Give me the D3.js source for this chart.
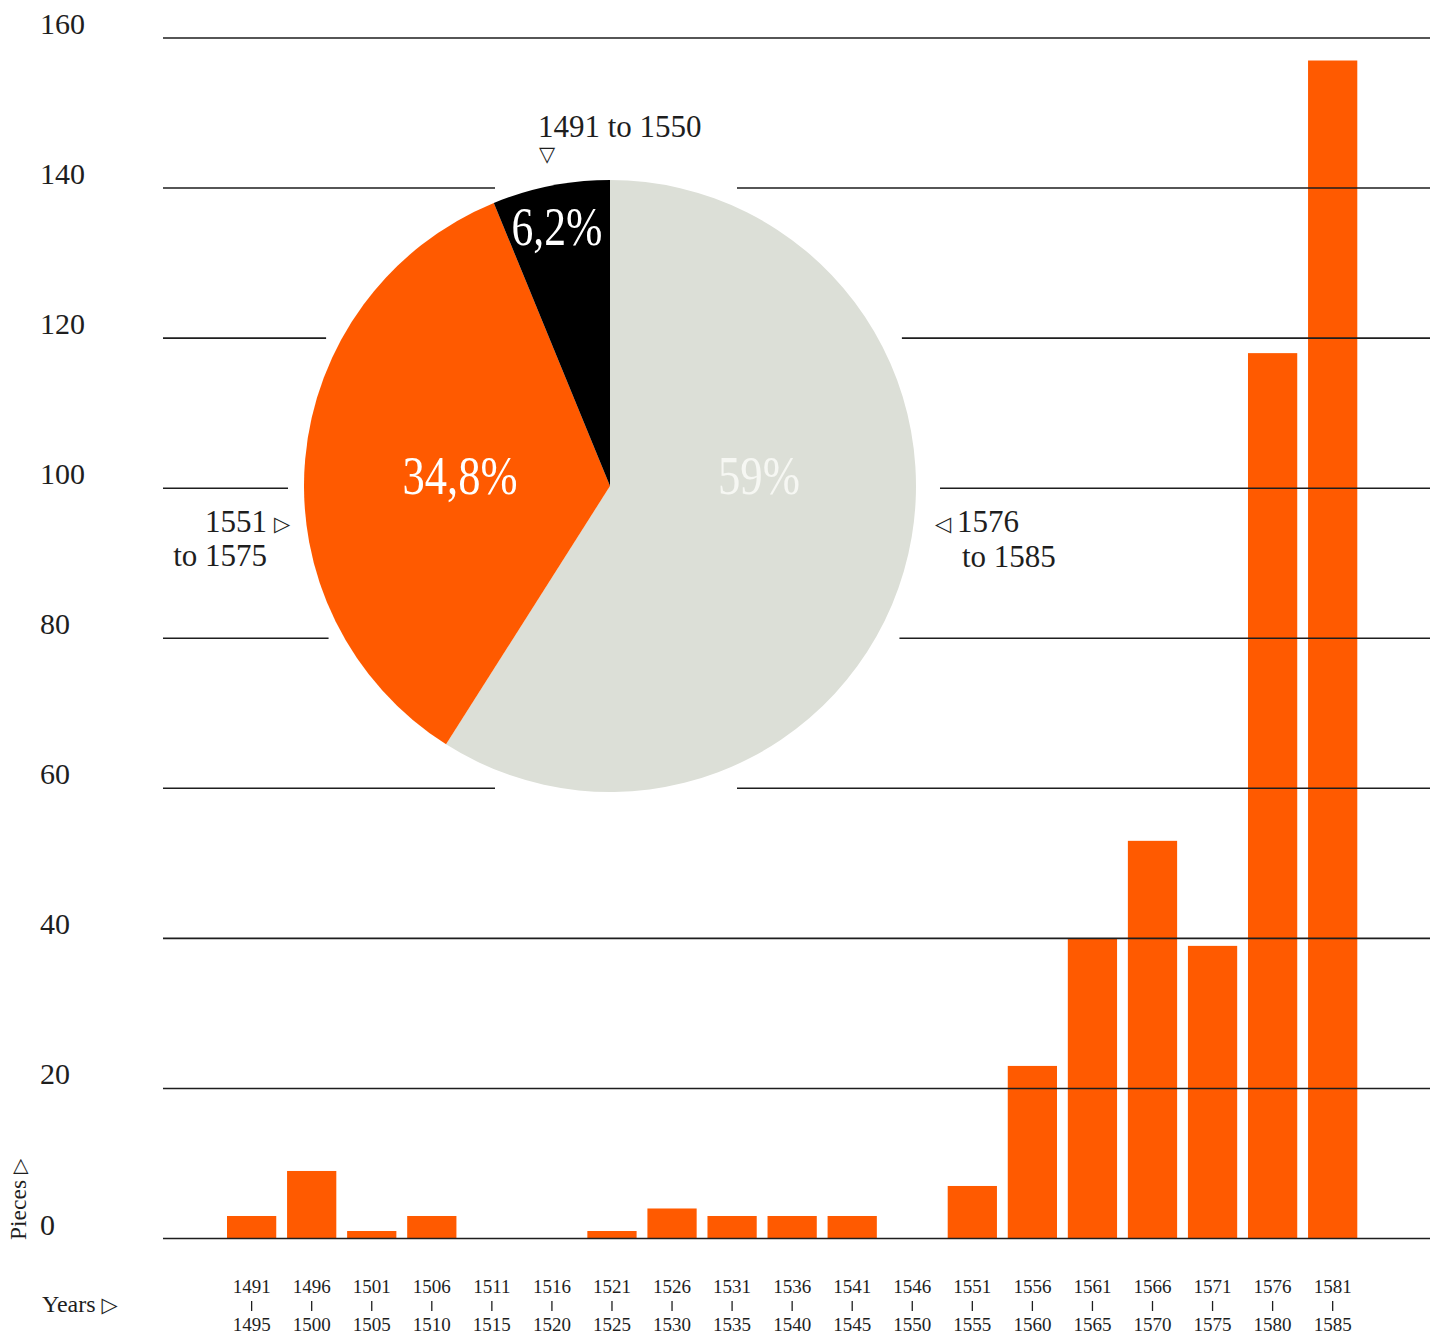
<!DOCTYPE html>
<html>
<head>
<meta charset="utf-8">
<script src="https://cdn.jsdelivr.net/npm/d3@7"></script>
<style>
  html, body { margin: 0; padding: 0; background: #fff; }
  svg { display: block; }
</style>
</head>
<body>
<svg id="chart" width="1452" height="1339"></svg>
<script>
// ---- data ----
const periodStart = ["1491","1496","1501","1506","1511","1516","1521","1526","1531","1536","1541","1546","1551","1556","1561","1566","1571","1576","1581"];
const periodEnd   = ["1495","1500","1505","1510","1515","1520","1525","1530","1535","1540","1545","1550","1555","1560","1565","1570","1575","1580","1585"];
const pieces      = [3, 9, 1, 3, 0, 0, 1, 4, 3, 3, 3, 0, 7, 23, 40, 53, 39, 118, 157];
const yTicks      = [0, 20, 40, 60, 80, 100, 120, 140, 160];

const shareNames  = ["1576 to 1585", "1551 to 1575", "1491 to 1550"];
const shareValues = [59, 34.8, 6.2];
const shareLabels = ["59%", "34,8%", "6,2%"];
const shareColors = ["#dcdfd7", "#ff5a00", "#000000"];

// ---- layout ----
const svg = d3.select("#chart");
const serif = "'Liberation Serif', 'DejaVu Serif', serif";
const symf = "'DejaVu Sans', sans-serif";
const orange = "#ff5a00";
const ink = "#1e1e1e";

const y = d3.scaleLinear().domain([0, 160]).range([1238.5, 38]);
const x = d3.scaleBand().domain(periodStart).range([221.6, 1362.7]).paddingInner(0.18).paddingOuter(0.09);

const cx = 610, cy = 486, r = 306;

// bars
svg.append("g").selectAll("rect").data(pieces).join("rect")
  .attr("x", (d, i) => x(periodStart[i]))
  .attr("width", x.bandwidth())
  .attr("y", d => y(d))
  .attr("height", d => y(0) - y(d))
  .attr("fill", orange);

// pie
const pie = d3.pie().sort(null).value(d => d)(shareValues);
const arc = d3.arc().innerRadius(0).outerRadius(r);
const pg = svg.append("g").attr("transform", `translate(${cx},${cy})`);
pg.selectAll("path").data(pie).join("path")
  .attr("d", arc)
  .attr("fill", (d, i) => shareColors[i]);

// gridlines (interrupted around the pie)
const gx0 = 163, gx1 = 1430;
const grid = svg.append("g").attr("stroke", ink).attr("stroke-width", 1.6);
yTicks.forEach(t => {
  const py = y(t);
  const dy = py - cy;
  if (Math.abs(dy) < r + 10) {
    const hw = Math.abs(dy) < r ? Math.sqrt(r * r - dy * dy) : 0;
    const l = cx - Math.max(hw + 16, 115);
    const rr = cx + Math.max(hw + 24, 127);
    grid.append("line").attr("x1", gx0).attr("x2", l).attr("y1", py).attr("y2", py);
    grid.append("line").attr("x1", rr).attr("x2", gx1).attr("y1", py).attr("y2", py);
  } else {
    grid.append("line").attr("x1", gx0).attr("x2", gx1).attr("y1", py).attr("y2", py);
  }
});

// y tick labels
svg.append("g").selectAll("text").data(yTicks).join("text")
  .attr("x", 40)
  .attr("y", d => y(d) - 4)
  .attr("font-family", serif)
  .attr("font-size", 30)
  .attr("fill", ink)
  .text(d => d);

// x tick labels
const xl = svg.append("g").attr("font-family", serif).attr("font-size", 19).attr("fill", ink).attr("text-anchor", "middle");
periodStart.forEach((p, i) => {
  const mx = x(p) + x.bandwidth() / 2;
  xl.append("text").attr("x", mx).attr("y", 1293).text(p);
  xl.append("line").attr("x1", mx).attr("x2", mx).attr("y1", 1301).attr("y2", 1311)
    .attr("stroke", ink).attr("stroke-width", 1.3);
  xl.append("text").attr("x", mx).attr("y", 1331).text(periodEnd[i]);
});

// axis titles
const yt = svg.append("text")
  .attr("transform", "translate(26,1240) rotate(-90)")
  .attr("font-family", serif).attr("font-size", 23.5).attr("fill", ink);
yt.append("tspan").text("Pieces ");
yt.append("tspan").attr("font-family", symf).attr("font-size", 20).text("\u25B7");

const xt = svg.append("text")
  .attr("x", 42).attr("y", 1312)
  .attr("font-family", serif).attr("font-size", 24).attr("fill", ink);
xt.append("tspan").text("Years ");
xt.append("tspan").attr("font-family", symf).attr("font-size", 21).text("\u25B7");

// pie percentage labels
const pctPos = [[cx + 149, cy + 8, 82, "#f6f7f3"], [cx - 150, cy + 8, 115, "#ffffff"], [cx - 53, cy - 241, 91, "#ffffff"]];
svg.append("g").selectAll("text").data(pie).join("text")
  .attr("x", (d, i) => pctPos[i][0])
  .attr("y", (d, i) => pctPos[i][1])
  .attr("text-anchor", "middle")
  .attr("font-family", serif)
  .attr("font-size", 54)
  .attr("textLength", (d, i) => pctPos[i][2])
  .attr("lengthAdjust", "spacingAndGlyphs")
  .attr("fill", (d, i) => pctPos[i][3])
  .text((d, i) => shareLabels[i]);

// period labels around the pie
const lab = svg.append("g").attr("font-family", serif).attr("font-size", 31).attr("fill", ink);
// 1491 to 1550 (top)
lab.append("text").attr("x", cx - 72).attr("y", cy - 349).text(shareNames[2]);
lab.append("text").attr("x", cx - 63).attr("y", cy - 325).attr("text-anchor", "middle")
  .attr("font-family", symf).attr("font-size", 21).text("\u25BD");
// 1551 to 1575 (left)
const n1 = shareNames[1].split(" to ");
lab.append("text").attr("x", 267).attr("y", 532).attr("text-anchor", "end").text(n1[0]);
lab.append("text").attr("x", 274).attr("y", 531).attr("font-family", symf).attr("font-size", 21).text("\u25B7");
lab.append("text").attr("x", 267).attr("y", 566).attr("text-anchor", "end").text("to " + n1[1]);
// 1576 to 1585 (right)
const n0 = shareNames[0].split(" to ");
lab.append("text").attr("x", 935).attr("y", 531).attr("font-family", symf).attr("font-size", 21).text("\u25C1");
lab.append("text").attr("x", 957).attr("y", 532).text(n0[0]);
lab.append("text").attr("x", 962).attr("y", 567).text("to " + n0[1]);
</script>
</body>
</html>
